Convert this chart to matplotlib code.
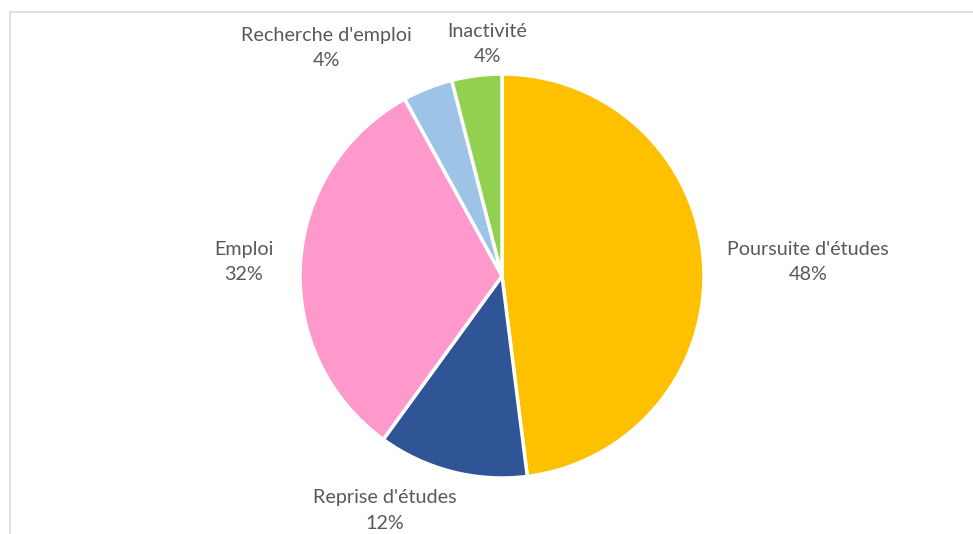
import matplotlib.pyplot as plt
from matplotlib.lines import Line2D

plt.rcParams['font.family'] = ['Lato', 'DejaVu Sans']

# data (clockwise from 12 o'clock)
categories = ["Poursuite d'études", "Reprise d'études", "Emploi",
              "Recherche d'emploi", "Inactivité"]
shares = [48, 12, 32, 4, 4]
colors = ["#FFC000", "#2F5597", "#FF99CC", "#9DC3E6", "#92D050"]
# label anchor positions (in pie radius units)
label_pos = [(1.515, 0.07), (-0.58, -1.16), (-1.28, 0.07),
             (-0.87, 1.13), (-0.074, 1.15)]

W, H = 973, 534
fig = plt.figure(figsize=(W / 100, H / 100), dpi=100)

# light chart frame (left + top edges visible)
fig.add_artist(Line2D([10 / W, 10 / W], [0, 1 - 12 / H], color="#D9D9D9", lw=1.2))
fig.add_artist(Line2D([10 / W, 1], [1 - 12 / H, 1 - 12 / H], color="#D9D9D9", lw=1.2))

cx, cy, r = 502, 276, 202
ax = fig.add_axes([(cx - r) / W, (H - cy - r) / H, 2 * r / W, 2 * r / H])
ax.pie(shares, colors=colors, startangle=90, counterclock=False, radius=1,
       wedgeprops=dict(edgecolor="white", linewidth=2.5))
ax.set_xlim(-1, 1)
ax.set_ylim(-1, 1)
ax.set_aspect("equal")
ax.axis("off")

for cat, val, (x, y) in zip(categories, shares, label_pos):
    ax.text(x, y, f"{cat}\n{val}%", ha="center", va="center", fontsize=14.2,
            color="#595959", linespacing=1.6, clip_on=False)

fig.savefig("out.png", dpi=100, facecolor="white")
